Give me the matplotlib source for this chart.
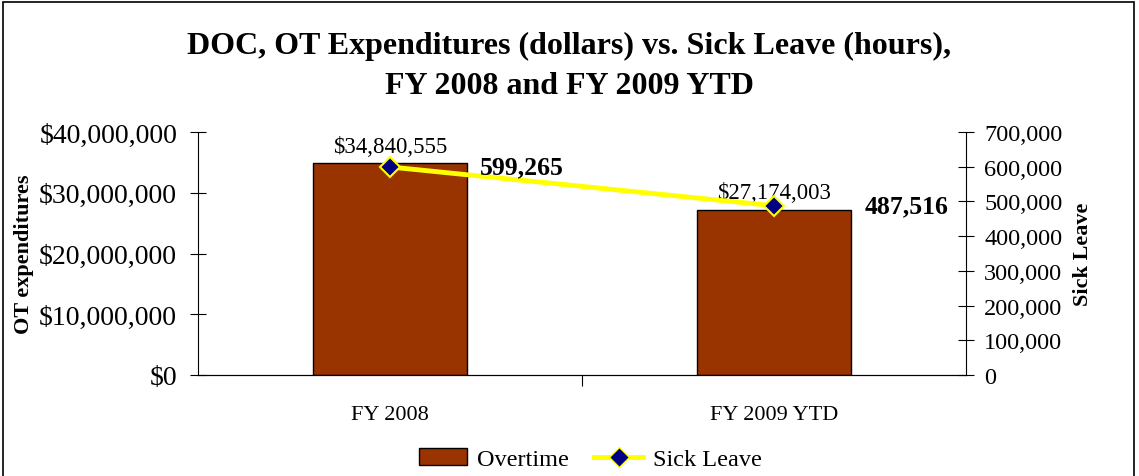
import matplotlib.pyplot as plt
import numpy as np
from matplotlib.lines import Line2D
from matplotlib.patches import Patch, Rectangle
from matplotlib.ticker import FuncFormatter, MultipleLocator

categories = ["FY 2008", "FY 2009 YTD"]
overtime = [34840555, 27174003]
sick_leave = [599265, 487516]
overtime_labels = ["$34,840,555", "$27,174,003"]
sick_labels = ["599,265", "487,516"]

plt.rcParams['font.family'] = ['Liberation Serif', 'DejaVu Serif']

fig = plt.figure(figsize=(11.39, 4.77), dpi=100)
# outer chart border
fig.patches.append(Rectangle((0.003, -0.01), 0.993, 1.004, transform=fig.transFigure,
                             fill=False, edgecolor='black', linewidth=1.2))

ax = fig.add_axes([198/1139, 1 - 376/477, (966 - 198)/1139, (376 - 133)/477])
x = np.arange(len(categories))

ax.bar(x, overtime, width=0.4, color='#993300', edgecolor='black', linewidth=1, zorder=2)
ax.set_xlim(-0.5, 1.5)
ax.set_ylim(0, 40000000)
ax.yaxis.set_major_locator(MultipleLocator(10000000))
ax.yaxis.set_major_formatter(FuncFormatter(lambda v, p: "${:,.0f}".format(v)))
ax.set_xticks([0.5])
ax.set_xticklabels([""])
ax.tick_params(axis='x', length=8, direction='out')
for i, c in enumerate(categories):
    ax.text(x[i], -0.125, c, transform=ax.get_xaxis_transform(), ha='center', va='top', fontsize=16)
ax.tick_params(axis='y', direction='inout', length=12, labelsize=20, pad=9)
ax.spines['top'].set_visible(False)
ax.spines['right'].set_visible(False)
ax.set_ylabel("OT expenditures", fontsize=16, fontweight='bold')
ax.yaxis.set_label_coords(-0.214, 0.5)

for i in range(len(x)):
    ax.text(x[i], overtime[i] + 1100000, overtime_labels[i], ha='center', va='bottom', fontsize=16.5)

ax2 = ax.twinx()
ax2.set_ylim(0, 700000)
ax2.yaxis.set_major_locator(MultipleLocator(100000))
ax2.yaxis.set_major_formatter(FuncFormatter(lambda v, p: "{:,.0f}".format(v)))
ax2.tick_params(axis='y', direction='inout', length=12, labelsize=17.5, pad=7)
ax2.spines['top'].set_visible(False)
ax2.spines['left'].set_visible(False)
ax2.plot(x, sick_leave, color='yellow', linewidth=3.5, marker='D', markersize=10,
         markerfacecolor='#000080', markeredgecolor='yellow', markeredgewidth=1.5, zorder=3)
ax2.set_ylabel("Sick Leave", fontsize=16, fontweight='bold', rotation=90)
ax2.yaxis.set_label_position('right')
ax2.yaxis.set_label_coords(1.139, 0.5)
for i in range(len(x)):
    ax2.text(x[i] + 0.235, sick_leave[i], sick_labels[i], ha='left', va='center',
             fontsize=18.5, fontweight='bold')

fig.text(0.5, 1 - 46/477, "DOC, OT Expenditures (dollars) vs. Sick Leave (hours),",
         ha='center', va='center', fontsize=23, fontweight='bold')
fig.text(0.5, 1 - 87/477, "FY 2008 and FY 2009 YTD",
         ha='center', va='center', fontsize=23, fontweight='bold')

handles = [Patch(facecolor='#993300', edgecolor='black', linewidth=1),
           Line2D([], [], color='yellow', linewidth=3.5, marker='D', markersize=10,
                  markerfacecolor='#000080', markeredgecolor='yellow')]
fig.legend(handles, ["Overtime", "Sick Leave"], loc='center', bbox_to_anchor=(590/1139, 1 - 460/477),
           ncol=2, frameon=False, fontsize=17.5, handlelength=2, columnspacing=1.05, handletextpad=0.4)

fig.savefig("out.png", dpi=100)
